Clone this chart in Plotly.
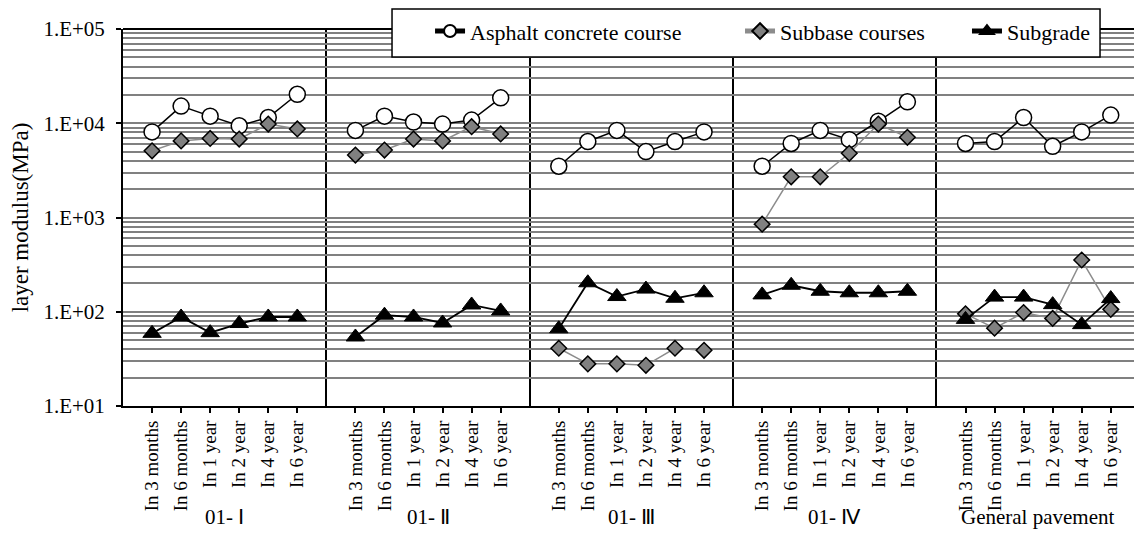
import plotly.graph_objects as go

# Test periods and pavement sections
periods = ["In 3 months", "In 6 months", "In 1 year", "In 2 year", "In 4 year", "In 6 year"]
sections = ["01- Ⅰ", "01- Ⅱ", "01- Ⅲ", "01- Ⅳ", "General pavement"]

# Back-calculated layer modulus (MPa), one list of six values per section
asphalt = [
    [8100, 15200, 11900, 9400, 11500, 20300],
    [8400, 11900, 10300, 9800, 10800, 18600],
    [3500, 6400, 8400, 5000, 6400, 8100],
    [3500, 6100, 8400, 6700, 10500, 16900],
    [6100, 6400, 11500, 5700, 8100, 12200],
]
subbase = [
    [5100, 6500, 6900, 6800, 9800, 8700],
    [4600, 5200, 6800, 6500, 9200, 7700],
    [41, 28, 28, 27, 41, 39],
    [850, 2700, 2700, 4800, 9800, 7100],
    [95, 67, 98, 85, 354, 106],
]
subgrade = [
    [59, 88, 60, 75, 88, 88],
    [54, 92, 88, 76, 118, 102],
    [66, 203, 145, 174, 139, 159],
    [151, 191, 165, 159, 159, 165],
    [83, 143, 143, 119, 73, 138],
]

SERIF = "Liberation Serif, Times New Roman, serif"
slot = len(periods) + 1  # six periods plus one blank slot per section


def flatten(groups):
    """Lay the sections side by side on one category axis, with a gap between them."""
    xs, ys = [], []
    for g, vals in enumerate(groups):
        for i, v in enumerate(vals):
            xs.append(g * slot + i + 1)
            ys.append(v)
        xs.append(None)
        ys.append(None)
    return xs, ys


fig = go.Figure()

series = [
    ("Asphalt concrete course", asphalt, "legend",
     dict(symbol="circle", size=16, color="white", line=dict(color="black", width=1.5)),
     dict(color="black", width=1.5)),
    ("Subbase courses", subbase, "legend2",
     dict(symbol="diamond", size=12, color="#808080", line=dict(color="black", width=1.5)),
     dict(color="#8c8c8c", width=1.5)),
    ("Subgrade", subgrade, "legend3",
     dict(symbol="triangle-up", size=16, color="black", line=dict(color="black", width=1)),
     dict(color="black", width=1.8)),
]
for name, data, leg, marker, line in series:
    xs, ys = flatten(data)
    fig.add_trace(go.Scatter(x=xs, y=ys, name=name, mode="lines+markers", legend=leg,
                             marker=marker, line=line, connectgaps=False))

tick_x = [g * slot + i + 1 for g in range(len(sections)) for i in range(len(periods))]
tick_text = periods * len(sections)
sep_x = [slot * (g + 1) for g in range(len(sections) - 1)]

for g, sec in enumerate(sections):
    fig.add_annotation(x=g * slot + slot / 2, y=-0.294, xref="x", yref="paper",
                       text=sec, showarrow=False, yanchor="middle",
                       font=dict(family=SERIF, size=21, color="black"))

fig.update_xaxes(
    range=[0, 34.8], tickvals=tick_x, ticktext=tick_text, tickangle=-90,
    ticks="outside", ticklen=5, tickwidth=1.5, tickcolor="black",
    showgrid=False, zeroline=False,
    showline=True, linecolor="black", linewidth=2,
    tickfont=dict(family=SERIF, size=19, color="black"),
    minor=dict(tickvals=sep_x, showgrid=True, gridcolor="black", gridwidth=1.8, ticks=""),
)
fig.update_yaxes(
    type="log", range=[1, 5],
    tickvals=[10, 100, 1000, 10000, 100000],
    ticktext=["1.E+01", "1.E+02", "1.E+03", "1.E+04", "1.E+05"],
    ticks="outside", ticklen=5, tickwidth=1.5, tickcolor="black",
    showgrid=True, gridcolor="#808080", gridwidth=1.6,
    showline=True, linecolor="black", linewidth=2, mirror=False,
    tickfont=dict(family=SERIF, size=21, color="black"),
    ticklabelstandoff=7,
    minor=dict(dtick="D1", showgrid=True, gridcolor="#808080", gridwidth=1.6, ticks=""),
    title=dict(text="layer modulus(MPa)", font=dict(family=SERIF, size=23, color="black"),
               standoff=8),
)

# heavy frame line along the top of the plot
fig.add_shape(type="line", xref="paper", yref="paper", x0=0, x1=1, y0=1, y1=1,
              line=dict(color="black", width=2))
# shared frame behind the three legend entries
fig.add_shape(type="rect", xref="paper", yref="paper", layer="above",
              x0=0.2661, x1=0.9664, y0=0.9257, y1=1.053,
              fillcolor="white", line=dict(color="black", width=1.5))

leg_common = dict(orientation="h", yanchor="middle", y=0.994, xanchor="left",
                  bgcolor="rgba(0,0,0,0)", borderwidth=0, itemsizing="constant",
                  font=dict(family=SERIF, size=22, color="black"))

fig.update_layout(
    width=1134, height=533,
    margin=dict(l=123, r=0, t=29, b=127),
    paper_bgcolor="white", plot_bgcolor="white",
    showlegend=True,
    legend=dict(x=0.3037, **leg_common),
    legend2=dict(x=0.6103, **leg_common),
    legend3=dict(x=0.8348, **leg_common),
)

fig.write_html("out.html")
